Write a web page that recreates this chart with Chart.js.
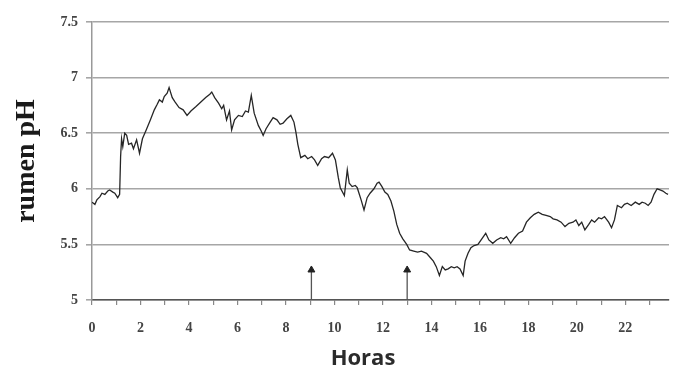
<!DOCTYPE html>
<html>
<head>
<meta charset="utf-8">
<script src="https://cdn.jsdelivr.net/npm/chart.js@4/dist/chart.umd.min.js"></script>
<style>
html,body{margin:0;padding:0;background:#fff;}
#wrap{width:674px;height:374px;position:relative;}
</style>
</head>
<body>
<div id="wrap"><canvas id="c" width="674" height="374"></canvas></div>
<script>
// Time (hours) and rumen pH
const hours = [0.00,0.12,0.20,0.33,0.41,0.53,0.65,0.73,0.86,0.94,1.06,1.14,1.18,1.22,1.27,1.35,1.43,1.51,1.63,1.71,1.84,1.96,2.08,2.24,2.41,2.57,2.69,2.78,2.90,2.98,3.10,3.18,3.31,3.43,3.59,3.76,3.92,4.08,4.29,4.49,4.69,4.86,4.94,5.06,5.22,5.35,5.43,5.55,5.67,5.76,5.88,6.04,6.20,6.33,6.45,6.57,6.69,6.86,6.98,7.06,7.18,7.35,7.47,7.63,7.76,7.88,8.04,8.20,8.33,8.41,8.49,8.61,8.78,8.90,9.06,9.18,9.31,9.47,9.59,9.76,9.92,10.04,10.16,10.24,10.41,10.53,10.61,10.73,10.86,10.94,11.10,11.22,11.35,11.47,11.63,11.76,11.84,11.96,12.08,12.20,12.33,12.45,12.57,12.69,12.82,12.98,13.10,13.27,13.43,13.59,13.80,13.96,14.08,14.20,14.33,14.45,14.57,14.69,14.82,14.94,15.06,15.18,15.31,15.39,15.51,15.63,15.76,15.92,16.08,16.24,16.37,16.53,16.69,16.86,16.98,17.10,17.27,17.43,17.59,17.76,17.92,18.08,18.24,18.41,18.57,18.73,18.90,19.02,19.18,19.35,19.51,19.67,19.84,19.96,20.08,20.20,20.33,20.49,20.61,20.73,20.90,21.02,21.14,21.31,21.43,21.55,21.67,21.84,21.96,22.08,22.24,22.41,22.57,22.69,22.82,22.94,23.06,23.18,23.31,23.43,23.55,23.67,23.76];
const ph = [5.88,5.86,5.90,5.93,5.96,5.95,5.98,5.99,5.97,5.96,5.92,5.95,6.29,6.45,6.38,6.50,6.48,6.40,6.41,6.36,6.44,6.32,6.45,6.53,6.62,6.71,6.76,6.80,6.78,6.83,6.86,6.91,6.82,6.78,6.73,6.71,6.66,6.70,6.74,6.78,6.82,6.85,6.87,6.82,6.77,6.72,6.75,6.62,6.70,6.53,6.62,6.66,6.65,6.70,6.69,6.84,6.68,6.57,6.52,6.48,6.54,6.60,6.64,6.62,6.58,6.59,6.63,6.66,6.60,6.51,6.40,6.28,6.30,6.27,6.29,6.26,6.21,6.27,6.29,6.28,6.32,6.26,6.10,6.01,5.94,6.17,6.05,6.02,6.03,6.01,5.90,5.81,5.92,5.96,6.00,6.05,6.06,6.02,5.97,5.95,5.89,5.80,5.68,5.60,5.55,5.50,5.45,5.44,5.43,5.44,5.42,5.38,5.35,5.30,5.22,5.30,5.27,5.28,5.30,5.29,5.30,5.28,5.22,5.35,5.42,5.47,5.49,5.50,5.55,5.60,5.54,5.51,5.54,5.56,5.55,5.57,5.51,5.56,5.60,5.62,5.70,5.74,5.77,5.79,5.77,5.76,5.75,5.73,5.72,5.70,5.66,5.69,5.70,5.72,5.67,5.70,5.63,5.68,5.72,5.70,5.74,5.73,5.75,5.70,5.65,5.72,5.85,5.83,5.86,5.87,5.85,5.88,5.86,5.88,5.87,5.85,5.88,5.95,6.00,5.99,5.98,5.96,5.95];

// Arrow markers (feeding times)
const arrowHours = [9.05, 13.0];
const arrowBase = 5;
const arrowTip = 5.27;

// Axis labels
const xTickLabels = ['0','2','4','6','8','10','12','14','16','18','20','22'];
const yTickValues = [5, 5.5, 6, 6.5, 7, 7.5];
const yTitle = 'rumen pH';
const xTitle = 'Horas';

const phData = hours.map((h, i) => ({x: h, y: ph[i]}));
const arrowSets = arrowHours.map(h => ({
  data: [{x: h, y: arrowBase}, {x: h, y: arrowTip}],
  borderColor: '#555',
  borderWidth: 1.3,
  pointRadius: [0, 4],
  pointStyle: 'triangle',
  pointBackgroundColor: '#222',
  pointBorderColor: '#222',
  pointBorderWidth: 1,
  tension: 0
}));

const xTitlePlugin = {
  id: 'xTitle',
  afterDraw(chart) {
    const ctx = chart.ctx;
    ctx.save();
    ctx.font = 'bold 22px "Open Sans"';
    ctx.fillStyle = '#2b2b2b';
    ctx.textAlign = 'center';
    ctx.textBaseline = 'middle';
    ctx.fillText(xTitle, 363, 359);
    ctx.restore();
  }
};

new Chart(document.getElementById('c'), {
  type: 'line',
  data: {
    datasets: [{
      data: phData,
      borderColor: '#262626',
      borderWidth: 1.3,
      pointRadius: 0,
      tension: 0
    }, ...arrowSets]
  },
  options: {
    responsive: false,
    animation: false,
    layout: {padding: {top: 22, right: 0, left: 0, bottom: 0}},
    plugins: {legend: {display: false}, tooltip: {enabled: false}},
    scales: {
      x: {
        type: 'linear',
        min: 0,
        max: 23.8,
        afterFit(s) { s.height = 74; },
        afterBuildTicks(s) {
          const t = [];
          for (let v = 0; v <= 23; v++) t.push({value: v});
          s.ticks = t;
        },
        ticks: {
          autoSkip: false,
          maxRotation: 0,
          padding: 15,
          color: '#444',
          font: {family: '"Liberation Serif"', size: 14, weight: 'bold'},
          callback: (v) => xTickLabels.includes(String(v)) ? String(v) : ''
        },
        grid: {drawOnChartArea: false, tickLength: 5, color: '#888', lineWidth: 1.2},
        border: {color: '#555', width: 1.5}
      },
      y: {
        min: 5,
        max: 7.5,
        afterFit(s) { s.width = 92; },
        afterBuildTicks(s) { s.ticks = yTickValues.map(v => ({value: v})); },
        ticks: {
          padding: 8,
          color: '#444',
          font: {family: '"Liberation Serif"', size: 14, weight: 'bold'},
          callback: (v) => String(v)
        },
        grid: {color: '#a6a6a6', lineWidth: 1.6, tickLength: 6},
        border: {color: '#999', width: 1.5},
        title: {
          display: true,
          text: yTitle,
          color: '#1a1a1a',
          font: {family: '"Liberation Serif"', size: 28, weight: 'bold'},
          padding: {top: 10, bottom: 0}
        }
      }
    }
  },
  plugins: [xTitlePlugin]
});
</script>
</body>
</html>
